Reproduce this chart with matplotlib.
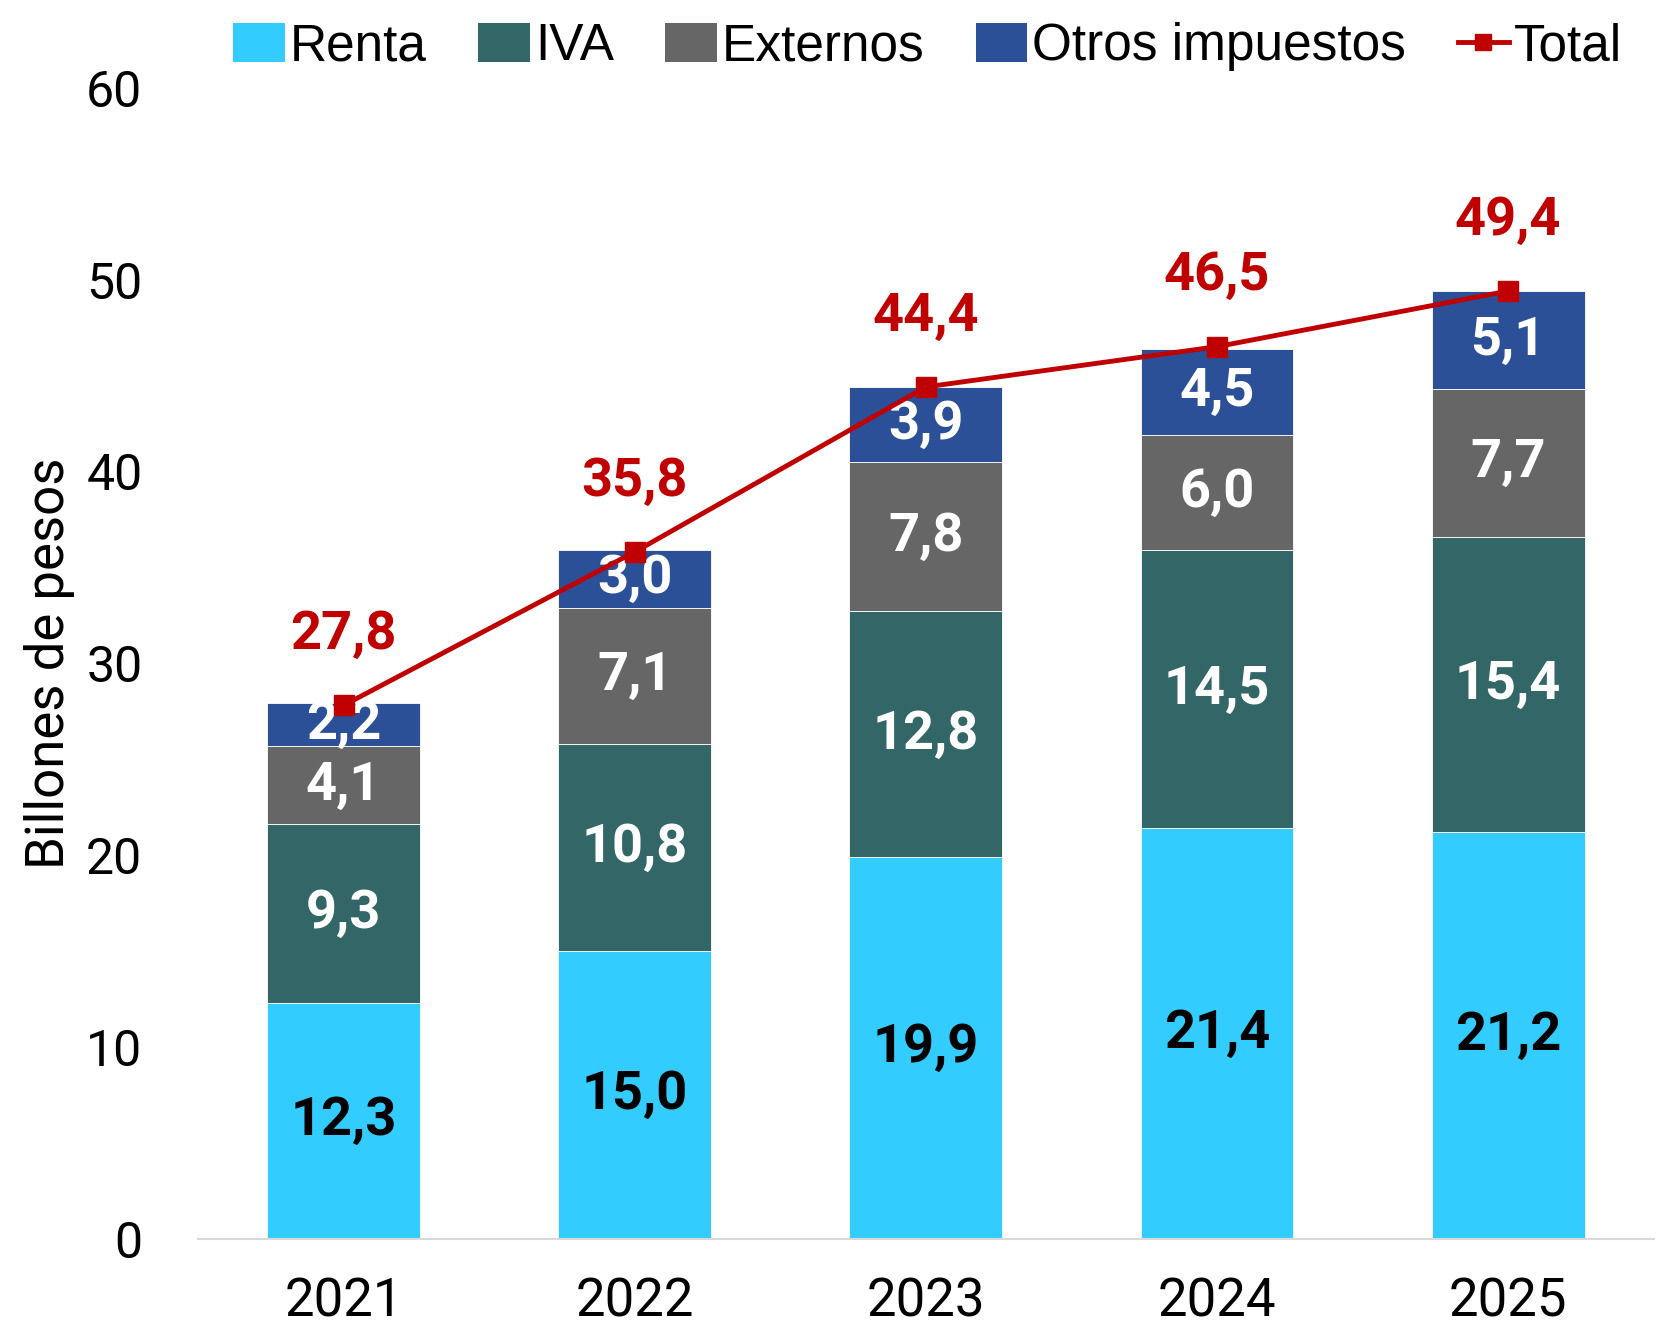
import matplotlib
matplotlib.use("Agg")
import matplotlib.pyplot as plt
from matplotlib.patches import Patch
from matplotlib.lines import Line2D
import numpy as np

plt.rcParams['font.family'] = ['Roboto', 'DejaVu Sans']

years = ['2021', '2022', '2023', '2024', '2025']
renta = [12.3, 15.0, 19.9, 21.4, 21.2]
iva = [9.3, 10.8, 12.8, 14.5, 15.4]
externos = [4.1, 7.1, 7.8, 6.0, 7.7]
otros = [2.2, 3.0, 3.9, 4.5, 5.1]
total = [27.8, 35.8, 44.4, 46.5, 49.4]

series = [('Renta', renta, '#33CCFF', 'black'),
          ('IVA', iva, '#336666', 'white'),
          ('Externos', externos, '#666666', 'white'),
          ('Otros impuestos', otros, '#2B5097', 'white')]

fig = plt.figure(figsize=(16.57, 13.29), dpi=100)
ax = fig.add_axes([0.1195, 0.068, 0.8785, 0.866])

x = np.arange(len(years))
bottom = np.zeros(len(years))
for name, vals, col, tcol in series:
    vals = np.array(vals)
    ax.bar(x, vals, 0.525, bottom=bottom, color=col, edgecolor='white', linewidth=0.6, zorder=2)
    for xi, b, v in zip(x, bottom, vals):
        ax.text(xi, b + v / 2, f'{v:.1f}'.replace('.', ','), ha='center', va='center',
                fontsize=39, fontweight='bold', color=tcol, zorder=4)
    bottom += vals

ax.plot(x, total, color='#C00000', lw=3.5, marker='s', ms=14, zorder=5)
for xi, t in zip(x, total):
    ax.text(xi, t + 3.7, f'{t:.1f}'.replace('.', ','), ha='center', va='center',
            fontsize=39, fontweight='bold', color='#C00000')

ax.set_xlim(-0.5, 4.5)
ax.set_ylim(0, 60)
ax.set_yticks(range(0, 61, 10))
ax.set_xticks(x)
ax.set_xticklabels(years)
ax.tick_params(axis='y', length=0, labelsize=36, pad=40)
ax.tick_params(axis='x', length=0, labelsize=38, pad=27)
for s in ['top', 'right', 'left']:
    ax.spines[s].set_visible(False)
ax.spines['bottom'].set_color('#D9D9D9')
ax.spines['bottom'].set_linewidth(1.5)
ax.set_ylabel('Billones de pesos', fontsize=38, labelpad=8)

handles = [Patch(facecolor=c, label=n) for n, _, c, _ in series]
handles.append(Line2D([0], [0], color='#C00000', lw=3.5, marker='s', ms=12, label='Total'))
fig.legend(handles=handles, loc='upper center', bbox_to_anchor=(0.56, 1.018), ncol=5,
           frameon=False, prop={'family': ['Liberation Sans'], 'size': 37},
           handlelength=1.0, handleheight=0.8, handletextpad=0.1, columnspacing=1.0)

fig.savefig('out.png', dpi=100)
